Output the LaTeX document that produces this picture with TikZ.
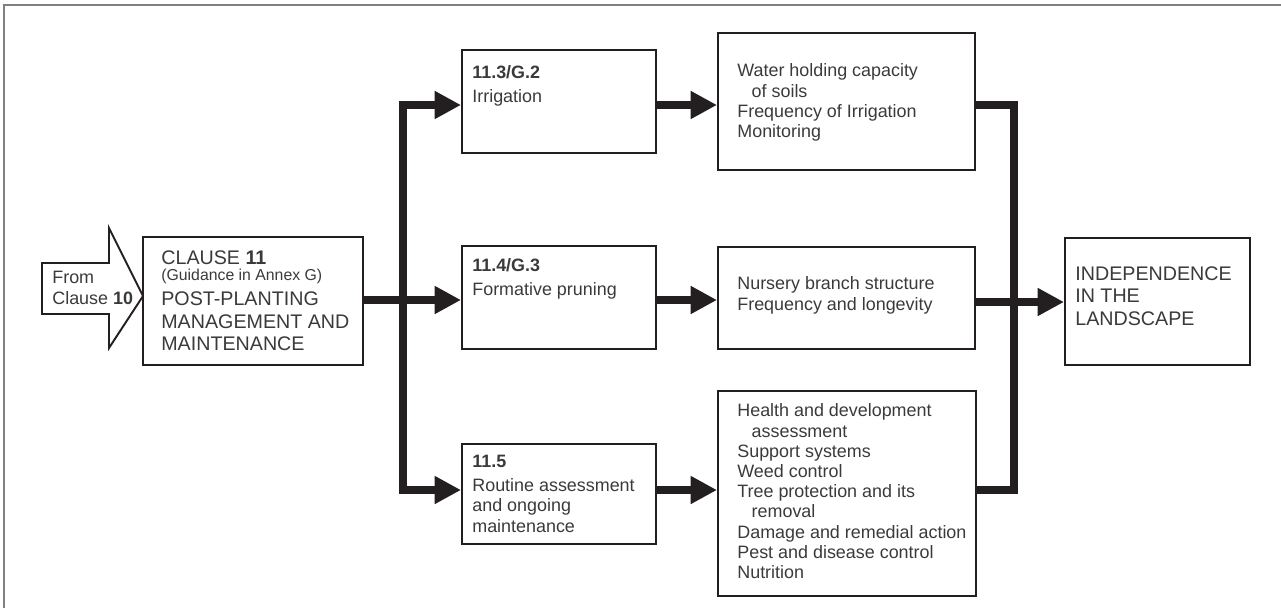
\documentclass[tikz,border=0pt]{standalone}
\usepackage{fontspec}
\setmainfont{Liberation Sans}
\usetikzlibrary{arrows.meta}
\definecolor{ink}{HTML}{231F20}
\definecolor{txtgray}{HTML}{3A3A3A}
\definecolor{framegray}{HTML}{808080}
\newcommand{\bodyfont}{\fontsize{10.2}{11.5}\selectfont}
\newcommand{\bigfont}{\fontsize{11.2}{12.8}\selectfont}
\newcommand{\smallfont}{\fontsize{9}{10}\selectfont}

\begin{document}
\begin{tikzpicture}[x=0.02cm, y=-0.02cm,
    box/.style={draw=ink, line width=1.1pt, anchor=north west, inner sep=0pt},
    txt/.style={anchor=north west, inner sep=0pt, align=left, text=txtgray, font=\bodyfont},
    bar/.style={draw=ink, line width=5pt},
    arr/.style={bar, -{Triangle[length=15pt,width=15pt]}}]
            \useasboundingbox (0,0) rectangle (1281,608);
            \draw[framegray, line width=1.2pt] (4,608) -- (4,5) -- (1281,5);

            % incoming arrow and clause box
            \draw[ink, line width=1.1pt, line join=miter] (42,263) -- (109,263) -- (109,228) -- (143,296) -- (109,348) -- (109,314) -- (42,314) -- cycle;
            \node[txt, font=\fontsize{10.2}{12}\selectfont] (from) at (52,270.5) {From\\Clause \textbf{10}};
            \node[box, minimum width=4.4cm, minimum height=2.56cm] (clause) at (142,236) {};
            \node[txt, font=\bigfont] (clausetxt) at (161,250) {CLAUSE \textbf{11}\\[-3.2pt]{\smallfont (Guidance in Annex G)}\\[1.4pt]POST-PLANTING\\MANAGEMENT AND\\MAINTENANCE};

            % middle column
            \node[box, minimum width=3.88cm, minimum height=2.06cm] (irr) at (461,49) {};
            \node[txt] (irrtxt) at (472,65.5) {\textbf{11.3/G.2}\\[2.2pt]Irrigation};
            \node[box, minimum width=3.88cm, minimum height=2.06cm] (form) at (461,245) {};
            \node[txt] (formtxt) at (472,258.5) {\textbf{11.4/G.3}\\[2.2pt]Formative pruning};
            \node[box, minimum width=3.88cm, minimum height=2.0cm] (rout) at (461,443) {};
            \node[txt] (routtxt) at (472,455) {\textbf{11.5}\\[2.2pt]Routine assessment\\and ongoing\\maintenance};

            % right column
            \node[box, minimum width=5.14cm, minimum height=2.74cm] (water) at (717,32) {};
            \node[txt] (watertxt) at (737,63.5) {Water holding capacity\\\hspace*{0.8em}of soils\\Frequency of Irrigation\\Monitoring};
            \node[box, minimum width=5.14cm, minimum height=2.04cm] (nurs) at (717,246) {};
            \node[txt] (nurstxt) at (737,276.5) {Nursery branch structure\\Frequency and longevity};
            \node[box, minimum width=5.16cm, minimum height=4.1cm] (care) at (717,390) {};
            \node[txt] (caretxt) at (737,403.5) {Health and development\\\hspace*{0.8em}assessment\\Support systems\\Weed control\\Tree protection and its\\\hspace*{0.8em}removal\\Damage and remedial action\\Pest and disease control\\Nutrition};

            \node[box, minimum width=3.7cm, minimum height=2.54cm] (land) at (1064,237) {};
            \node[txt, font=\bigfont] (landtxt) at (1075,266) {INDEPENDENCE\\IN THE\\LANDSCAPE};

            % connectors
            \coordinate (lt) at (403,105); \coordinate (lm) at (403,300); \coordinate (lb) at (403,490);
            \coordinate (rt) at (1014,105); \coordinate (rm) at (1014,302); \coordinate (rb) at (1014,490);
            \draw[bar, line cap=rect] (lt) -- (lb);
            \draw[bar] (clause.east |- lm) -- (lm);
            \draw[arr] (lt) -- (lt -| irr.west);
            \draw[arr] (lm) -- (lm -| form.west);
            \draw[arr] (lb) -- (lb -| rout.west);
            \draw[arr] (irr.east |- lt) -- (water.west |- lt);
            \draw[arr] (form.east |- lm) -- (nurs.west |- lm);
            \draw[arr] (rout.east |- lb) -- (care.west |- lb);
            \draw[bar, line join=miter] (water.east |- rt) -- (rt) -- (rb) -- (care.east |- rb);
            \draw[arr] (nurs.east |- rm) -- (land.west |- rm);
        \end{tikzpicture}
\end{document}
